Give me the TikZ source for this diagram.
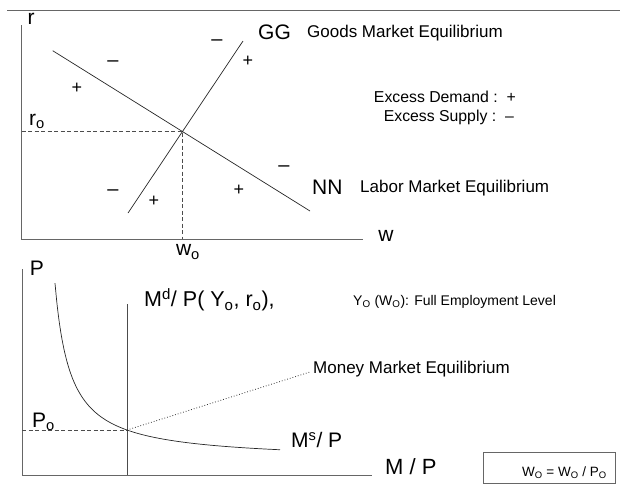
\documentclass[tikz,border=0pt]{standalone}
\usepackage{fontspec}
\setmainfont{Liberation Sans}
\newcommand{\fs}[1]{\fontsize{#1}{#1}\selectfont}
\begin{document}
\begin{tikzpicture}[x=1pt,y=-1pt,
  curve/.style={draw=black!85, line width=0.7pt},
  axis/.style={draw=black!60, line width=0.9pt},
  guide/.style={draw=black!70, dashed, dash pattern=on 4pt off 2.5pt, line width=0.6pt},
  axlab/.style={inner sep=0pt, font=\fs{21}},
  big/.style={inner sep=0pt, font=\fs{21.5}},
  lab/.style={inner sep=0pt, font=\fs{17}},
  small/.style={inner sep=0pt, font=\fs{15.8}},
  sgn/.style={inner sep=0pt, font=\fs{18}},
  mns/.style={inner sep=0pt, font=\fs{20}}]
\useasboundingbox (0,0) rectangle (620,496);
\draw[draw=black!60, line width=0.8pt] (7,10) -- (620,10);
% ---------- top panel ----------
\coordinate (ytop) at (21.7,25);
\coordinate (O1) at (21.7,239);
\coordinate (xend) at (363,239);
\draw[axis] (ytop) -- (O1) -- (xend);
\node[axlab] (r) at (31,19) {r};
\node[axlab] (w) at (386,236) {w};
\coordinate (NNa) at (52.7,50.7);
\coordinate (NNb) at (310,211);
\coordinate (GGa) at (128,213);
\coordinate (GGb) at (243,41);
\coordinate (E1) at (182.7,131);
\draw[curve] (NNa) -- (NNb);
\draw[curve] (GGa) -- (GGb);
\coordinate (ry) at (21.7,131);
\coordinate (wx) at (182.7,239);
\draw[guide] (ry) -- (E1) -- (wx);
\node[axlab, anchor=west] (ro) at (29,121) {r\textsubscript{o}};
\node[axlab] (wo) at (188,252) {w\textsubscript{o}};
\node[big, font=\fs{21}, anchor=west] (GG) at (258,32) {GG};
\node[lab, anchor=west] (GGt) at (307,33) {Goods Market Equilibrium};
\node[big, font=\fs{21}, anchor=west] (NN) at (312,187) {NN};
\node[lab, anchor=west] (NNt) at (360,188) {Labor Market Equilibrium};
\node[small, anchor=east] (ED) at (516,97) {Excess Demand :\ \ +};
\node[small, anchor=east] (ES) at (514,117) {Excess Supply :\ \ –};
\node[mns] (s1) at (113,64) {–};
\node[sgn] (s2) at (77,88) {+};
\node[mns] (s3) at (217,43) {–};
\node[sgn] (s4) at (248,61) {+};
\node[mns] (s5) at (113,193) {–};
\node[sgn] (s6) at (154,201) {+};
\node[sgn] (s7) at (239,190) {+};
\node[mns] (s8) at (284,169) {–};
% ---------- bottom panel ----------
\coordinate (ytop2) at (22,269);
\coordinate (O2) at (22,475);
\coordinate (xend2) at (372,475);
\draw[axis] (ytop2) -- (O2) -- (xend2);
\node[axlab] (P) at (37,268) {P};
\node[axlab, font=\fs{22}, anchor=west] (MP) at (385,467) {M / P};
\coordinate (Vt) at (127,304);
\coordinate (Vb) at (127,475);
\draw[curve, draw=black!70] (Vt) -- (Vb);
\node[big, anchor=west] (Md) at (144,300) {M\textsuperscript{d}/ P( Y\textsubscript{o}, r\textsubscript{o}),};
\node[inner sep=0pt, font=\fs{14}, anchor=west] (Yo) at (353,302) {Y\textsubscript{O} (W\textsubscript{O}): Full Employment Level};
\draw[curve] plot[domain=55:280, samples=120, smooth] (\x, {461 - 2703/(\x-39.8)});
\coordinate (E2) at (127,430);
\coordinate (Py) at (22,430);
\draw[guide] (Py) -- (E2);
\node[axlab, anchor=west] (Po) at (32,422) {P\textsubscript{o}};
\coordinate (dotend) at (310,372);
\draw[draw=black!80, dotted, line width=0.8pt] (E2) -- (dotend);
\node[lab, anchor=west] (MME) at (313,369) {Money Market Equilibrium};
\node[big, font=\fs{21}, anchor=west] (Ms) at (291,440) {M\textsuperscript{s}/ P};
\node[draw=black!60, line width=0.8pt, minimum width=132pt, minimum height=31pt, inner sep=0pt] (box) at (549,467.5) {};
\node[inner sep=0pt, font=\fs{13.5}, anchor=east] (boxt) at (607,473) {W\textsubscript{O} = W\textsubscript{O} / P\textsubscript{O}};
\end{tikzpicture}
\end{document}
